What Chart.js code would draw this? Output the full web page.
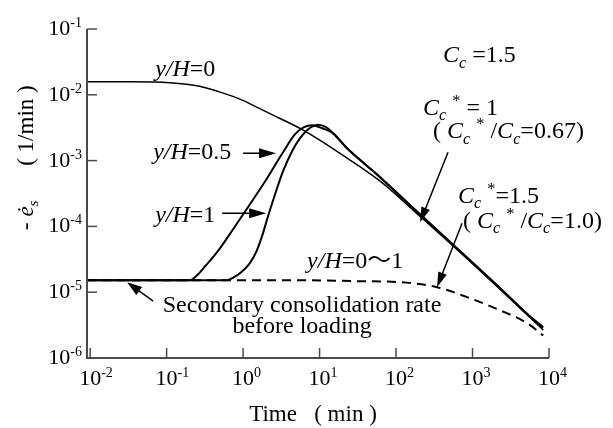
<!DOCTYPE html>
<html>
<head>
<meta charset="utf-8">
<script src="https://cdn.jsdelivr.net/npm/chart.js@4.4.0/dist/chart.umd.min.js"></script>
<style>
    html, body { margin: 0; padding: 0; background: #fff; }
</style>
</head>
<body>
<canvas id="grafico" width="613" height="428"></canvas>
<script>

/* DADOS */

// y/H = 0
const tempoTopo = [0.0091, 0.033, 0.11, 0.27, 0.55, 0.91, 1.5, 3.0, 6.1, 18.5, 62, 205, 685, 2290, 5630, 8400];
const taxaTopo = [1.58e-2, 1.58e-2, 1.53e-2, 1.35e-2, 1.06e-2, 8.6e-3, 6.5e-3, 4.4e-3, 2.9e-3, 1.29e-3, 4.87e-4, 1.43e-4, 4.06e-5, 1.11e-5, 4.17e-6, 2.65e-6];

// y/H = 0.5
const tempoMeio = [0.0091, 0.061, 0.2, 0.25, 0.319, 0.457, 0.74, 1.23, 2.06, 3.33, 4.78, 6.26, 7.98, 10.8, 15, 22.9, 39.3, 61.7, 205, 464, 2290, 5630, 8400];
const taxaMeio = [1.52e-5, 1.52e-5, 1.52e-5, 1.81e-5, 2.48e-5, 4.06e-5, 9.06e-5, 2.17e-4, 5.4e-4, 1.34e-3, 2.52e-3, 3.22e-3, 3.45e-3, 3.1e-3, 2.61e-3, 1.54e-3, 8.8e-4, 5.6e-4, 1.53e-4, 6.38e-5, 1.15e-5, 4.31e-6, 2.94e-6];

// y/H = 1
const tempoBase = [0.0091, 0.1, 0.62, 0.763, 0.942, 1.2, 1.48, 1.77, 2.12, 2.62, 3.33, 4.37, 5.56, 6.87, 8.2, 9.54, 12.2, 15, 22.9, 39.3, 61.7, 205, 464, 2290, 5630, 8300];
const taxaBase = [1.52e-5, 1.52e-5, 1.52e-5, 1.69e-5, 2.01e-5, 2.67e-5, 4.06e-5, 7.1e-5, 1.43e-4, 3.08e-4, 6.9e-4, 1.39e-3, 2.19e-3, 2.9e-3, 3.33e-3, 3.52e-3, 3.22e-3, 2.61e-3, 1.54e-3, 8.8e-4, 5.6e-4, 1.53e-4, 6.38e-5, 1.15e-5, 4.2e-6, 2.85e-6];

// y/H = 0~1, Cc* = 1.5
const tempoSec = [0.0091, 5.56, 33.8, 113, 344, 850, 2290, 5150, 8400];
const taxaSec = [1.52e-5, 1.52e-5, 1.47e-5, 1.42e-5, 1.19e-5, 8.4e-6, 5.3e-6, 3.4e-6, 2.2e-6];

// eixos
const ticksX = [1e-2, 1e-1, 1, 10, 100, 1000, 10000];
const expoX = ['-2', '-1', '0', '1', '2', '3', '4'];
const ticksY = [1e-6, 1e-5, 1e-4, 1e-3, 1e-2, 1e-1];
const expoY = ['-6', '-5', '-4', '-3', '-2', '-1'];


/* FUNCOES */

const fonte = '"Liberation Serif", "Times New Roman", "Noto Sans CJK JP", serif';

function pontos(tempos, taxas) {
    return tempos.map((t, i) => ({ x: t, y: taxas[i] }));
}

function serie(tempos, taxas, largura, tracejado) {
    return {
        data: pontos(tempos, taxas),
        borderColor: '#000',
        borderWidth: largura,
        borderDash: tracejado || [],
        pointRadius: 0,
        fill: false,
        cubicInterpolationMode: 'monotone'
    };
}

// trechos: [texto, tipo] -> '' normal, 'i' italico, 'sb' subscrito, 'sp' sobrescrito
function escreve(ctx, trechos, x, y, tam, alinhar) {
    const partes = trechos.map(([txt, tipo]) => {
        let t = tam, dy = 0, it = false;
        if (tipo === 'i') it = true;
        if (tipo === 'sb') { t = tam * 0.68; dy = tam * 0.22; it = true; }
        if (tipo === 'sp') { t = tam * 0.68; dy = -tam * 0.38; }
        ctx.font = (it ? 'italic ' : '') + t + 'px ' + fonte;
        return { txt, font: ctx.font, dy, w: ctx.measureText(txt).width };
    });
    const total = partes.reduce((s, p) => s + p.w, 0);
    let cx = alinhar === 'center' ? x - total / 2 : x;
    ctx.textAlign = 'left';
    ctx.textBaseline = 'alphabetic';
    partes.forEach(p => {
        ctx.font = p.font;
        ctx.fillText(p.txt, cx, y + p.dy);
        cx += p.w;
    });
}

function seta(ctx, x1, y1, x2, y2, comp, larg) {
    const a = Math.atan2(y2 - y1, x2 - x1);
    const c = Math.cos(a), s = Math.sin(a);
    ctx.beginPath();
    ctx.moveTo(x1, y1);
    ctx.lineTo(x2 - comp * 0.7 * c, y2 - comp * 0.7 * s);
    ctx.stroke();
    ctx.beginPath();
    ctx.moveTo(x2, y2);
    ctx.lineTo(x2 - comp * c + larg / 2 * s, y2 - comp * s - larg / 2 * c);
    ctx.lineTo(x2 - comp * c - larg / 2 * s, y2 - comp * s + larg / 2 * c);
    ctx.closePath();
    ctx.fill();
}


/* EIXOS E ANOTACOES */

const desenho = {
    id: 'desenho',
    afterDraw(chart) {
        const ctx = chart.ctx;
        const sx = chart.scales.x, sy = chart.scales.y;
        const area = chart.chartArea;
        const X = e => sx.getPixelForValue(Math.pow(10, e));
        const Y = e => sy.getPixelForValue(Math.pow(10, e));

        ctx.save();
        ctx.fillStyle = '#000';

        // linhas dos eixos e marcas
        ctx.strokeStyle = '#4a4a4a';
        ctx.lineWidth = 2;
        ctx.beginPath();
        ctx.moveTo(area.left, area.top);
        ctx.lineTo(area.left, area.bottom);
        ctx.lineTo(area.right, area.bottom);
        ctx.stroke();

        ctx.lineWidth = 1.5;
        ticksY.forEach(v => {
            const py = sy.getPixelForValue(v);
            ctx.beginPath();
            ctx.moveTo(area.left, py);
            ctx.lineTo(area.left + 10, py);
            ctx.stroke();
        });
        ticksX.forEach(v => {
            const px = sx.getPixelForValue(v);
            ctx.beginPath();
            ctx.moveTo(px, area.bottom);
            ctx.lineTo(px, area.bottom - 10);
            ctx.stroke();
        });

        // rotulos das marcas
        ctx.textBaseline = 'alphabetic';
        ticksX.forEach((v, i) => {
            const px = sx.getPixelForValue(v);
            ctx.font = '22px ' + fonte;
            ctx.textAlign = 'center';
            ctx.fillText('10', px, area.bottom + 27);
            const w = ctx.measureText('10').width;
            ctx.font = '14px ' + fonte;
            ctx.textAlign = 'left';
            ctx.fillText(expoX[i], px + w / 2, area.bottom + 19);
        });
        ticksY.forEach((v, i) => {
            const py = sy.getPixelForValue(v);
            ctx.font = '14px ' + fonte;
            ctx.textAlign = 'right';
            ctx.fillText(expoY[i], area.left - 5, py - 2);
            const we = ctx.measureText(expoY[i]).width;
            ctx.font = '22px ' + fonte;
            ctx.fillText('10', area.left - 5 - we, py + 6);
        });

        // titulos
        escreve(ctx, [['Time   ( min )', '']], 313, 421, 23, 'center');
        ctx.save();
        ctx.translate(33, 230);
        ctx.rotate(-Math.PI / 2);
        escreve(ctx, [['- ', ''], ['\u0117', 'i'], ['s', 'sb'], ['      ( 1/min )', '']], 0, 0, 23);
        ctx.restore();

        // rotulos das curvas
        ctx.strokeStyle = '#000';
        ctx.lineWidth = 1.5;
        escreve(ctx, [['y/H', 'i'], ['=0', '']], X(-1.15), Y(-1.717), 24);
        escreve(ctx, [['y/H', 'i'], ['=0.5', '']], X(-1.176), Y(-2.979), 24);
        seta(ctx, X(0), Y(-2.888), X(0.431), Y(-2.888), 17, 10);
        escreve(ctx, [['y/H', 'i'], ['=1', '']], X(-1.15), Y(-3.936), 24);
        seta(ctx, X(-0.275), Y(-3.799), X(0.301), Y(-3.799), 17, 10);

        escreve(ctx, [['y/H', 'i'], ['=0\uFF5E1', '']], X(0.837), Y(-4.635), 24);

        escreve(ctx, [['Secondary consolidation rate', '']], X(0.771), Y(-5.304), 24, 'center');
        escreve(ctx, [['before loading', '']], X(0.771), Y(-5.623), 24, 'center');
        seta(ctx, X(-1.176), Y(-5.137), X(-1.516), Y(-4.848), 15, 10);

        escreve(ctx, [['C', 'i'], ['c', 'sb'], [' =1.5', '']], X(2.614), Y(-1.505), 24);

        escreve(ctx, [['C', 'i'], ['c', 'sb'], [' ', ''], ['*', 'sp'], [' = 1', '']], X(2.353), Y(-2.31), 24);
        escreve(ctx, [['( ', ''], ['C', 'i'], ['c', 'sb'], [' ', ''], ['*', 'sp'], [' /', ''], ['C', 'i'], ['c', 'sb'], ['=0.67)', '']], X(2.484), Y(-2.66), 24);
        seta(ctx, X(2.68), Y(-2.872), X(2.314), Y(-3.936), 15, 9);

        escreve(ctx, [['C', 'i'], ['c', 'sb'], [' ', ''], ['*', 'sp'], ['=1.5', '']], X(2.81), Y(-3.647), 24);
        escreve(ctx, [['( ', ''], ['C', 'i'], ['c', 'sb'], [' ', ''], ['*', 'sp'], [' /', ''], ['C', 'i'], ['c', 'sb'], ['=1.0)', '']], X(2.876), Y(-4.027), 24);
        seta(ctx, X(2.863), Y(-3.951), X(2.536), Y(-4.924), 15, 9);

        ctx.restore();
    }
};


/* GRAFICO */

const grafico = new Chart(document.querySelector('#grafico'), {
    type: 'line',
    data: {
        datasets: [
            serie(tempoSec, taxaSec, 2, [9, 6]),
            serie(tempoTopo, taxaTopo, 1.5),
            serie(tempoMeio, taxaMeio, 2),
            serie(tempoBase, taxaBase, 2)
        ]
    },
    options: {
        responsive: false,
        animation: false,
        devicePixelRatio: 1,
        layout: { padding: { left: 87, right: 64, top: 29, bottom: 70 } },
        plugins: { legend: { display: false }, tooltip: { enabled: false } },
        scales: {
            x: { type: 'logarithmic', min: 0.0091, max: 10000, display: false },
            y: { type: 'logarithmic', min: 1e-6, max: 0.1, display: false }
        }
    },
    plugins: [desenho]
});
</script>
</body>
</html>
